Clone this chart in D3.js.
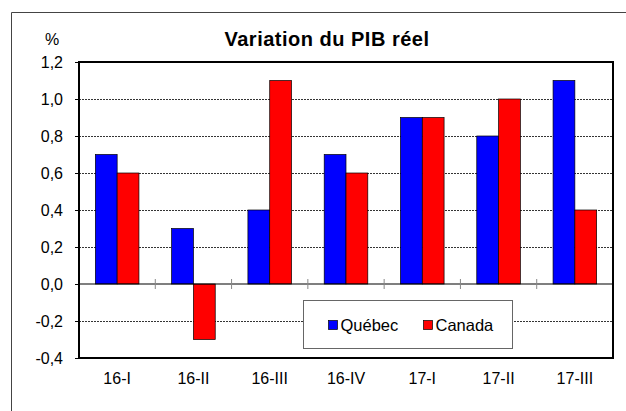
<!DOCTYPE html>
<html>
<head>
<meta charset="utf-8">
<script src="https://cdn.jsdelivr.net/npm/d3@7"></script>
<style>
  body { margin: 0; background: #fff; }
  text { font-family: "Liberation Sans", Arial, sans-serif; fill: #000; }
</style>
</head>
<body>
<div id="chart-area"></div>
<script>
var categories = ["16-I", "16-II", "16-III", "16-IV", "17-I", "17-II", "17-III"]
var quebec = [0.7, 0.3, 0.4, 0.7, 0.9, 0.8, 1.1]
var canada = [0.6, -0.3, 1.1, 0.6, 0.9, 1.0, 0.4]
var seriesNames = ["Québec", "Canada"]
var seriesColors = ["#0000ff", "#ff0000"]
var yTicks = [-0.4, -0.2, 0, 0.2, 0.4, 0.6, 0.8, 1.0, 1.2]

var margin = { top: 62, left: 79, right: 13, bottom: 53 }
var W = 626, H = 411
var width = W - margin.left - margin.right
var height = H - margin.top - margin.bottom

var svg = d3.select("#chart-area")
  .append("svg")
  .attr("width", W)
  .attr("height", H)

// outer chart border (only top and left visible)
svg.append("path")
  .attr("d", "M11.5," + H + "V12.5H" + W)
  .attr("fill", "none")
  .attr("stroke", "#444")
  .attr("stroke-width", 1)

svg.append("text")
  .text("Variation du PIB réel")
  .attr("x", 327)
  .attr("y", 45.5)
  .attr("text-anchor", "middle")
  .attr("font-size", "20px")
  .attr("letter-spacing", "0.5px")
  .attr("font-weight", "bold")

svg.append("text")
  .text("%")
  .attr("x", 52)
  .attr("y", 45)
  .attr("text-anchor", "middle")
  .attr("font-size", "16px")

var g = svg.append("g")
  .attr("transform", "translate(" + margin.left + "," + margin.top + ")")

var x = d3.scaleBand()
  .domain(categories)
  .range([0, width])

var gapRatio = 1.5
var barW = x.bandwidth() / (2 + gapRatio)

var y = d3.scaleLinear()
  .domain([-0.4, 1.2])
  .range([height, 0])

// gridlines
g.selectAll(".grid")
  .data(yTicks.filter(d => d !== 0 && d !== 1.2 && d !== -0.4))
  .enter()
  .append("line")
  .attr("x1", 0)
  .attr("x2", width)
  .attr("y1", d => Math.round(y(d)) + 0.5)
  .attr("y2", d => Math.round(y(d)) + 0.5)
  .attr("stroke", "#000")
  .attr("stroke-width", 0.8)
  .attr("stroke-dasharray", "2,1")

// y axis labels
var yAxisCall = d3.axisLeft(y)
  .tickValues(yTicks)
  .tickSize(5)
  .tickFormat(d => d3.format(".1f")(d).replace(".", ",").replace("−", "-"))

var yAxis = g.append("g")
  .attr("class", "y axis")
  .call(yAxisCall)
yAxis.select(".domain").remove()
yAxis.selectAll("line").attr("stroke", "#000").attr("x2", -4)
yAxis.selectAll("text")
  .attr("x", -16)
  .attr("dy", "0.36em")
  .attr("font-size", "16px")
  .attr("font-family", "Liberation Sans, Arial, sans-serif")

// bars
var groups = g.selectAll(".cat")
  .data(categories)
  .enter()
  .append("g")
  .attr("transform", d => "translate(" + (x(d) + (x.bandwidth() - 2 * barW) / 2) + ",0)")

var values = [quebec, canada]
values.forEach(function(vals, s) {
  groups.append("rect")
    .attr("x", s * barW)
    .attr("width", barW)
    .attr("y", (d, i) => y(Math.max(0, vals[i])))
    .attr("height", (d, i) => Math.abs(y(vals[i]) - y(0)))
    .attr("fill", seriesColors[s])
    .attr("stroke", "#000")
    .attr("stroke-width", 0.7)
})

// zero line
g.append("line")
  .attr("x1", 0)
  .attr("x2", width)
  .attr("y1", y(0))
  .attr("y2", y(0))
  .attr("stroke", "#000")
  .attr("stroke-width", 1.2)

// category boundary ticks
g.selectAll(".ctick")
  .data(categories.slice(1))
  .enter()
  .append("line")
  .attr("x1", d => x(d))
  .attr("x2", d => x(d))
  .attr("y1", y(0) - 5)
  .attr("y2", y(0) + 5)
  .attr("stroke", "#888")
  .attr("stroke-width", 1)

// x labels
g.selectAll(".xlab")
  .data(categories)
  .enter()
  .append("text")
  .text(d => d)
  .attr("x", d => x(d) + x.bandwidth() / 2)
  .attr("y", height + 26)
  .attr("text-anchor", "middle")
  .attr("font-size", "16px")

// plot frame
g.append("rect")
  .attr("x", 0)
  .attr("y", 0)
  .attr("width", width)
  .attr("height", height)
  .attr("fill", "none")
  .attr("stroke", "#000")
  .attr("stroke-width", 2)

// legend
var legend = svg.append("g")
  .attr("transform", "translate(303.5,300.5)")
legend.append("rect")
  .attr("width", 209)
  .attr("height", 48)
  .attr("fill", "#fff")
  .attr("stroke", "#666")
  .attr("stroke-width", 1)

var legendX = [25, 120]
seriesNames.forEach(function(name, i) {
  legend.append("rect")
    .attr("x", legendX[i])
    .attr("y", 20)
    .attr("width", 9)
    .attr("height", 9)
    .attr("fill", seriesColors[i])
    .attr("stroke", "#000")
    .attr("stroke-width", 0.7)
  legend.append("text")
    .text(name)
    .attr("x", legendX[i] + 12)
    .attr("y", 30)
    .attr("font-size", "16.5px")
})
</script>
</body>
</html>
